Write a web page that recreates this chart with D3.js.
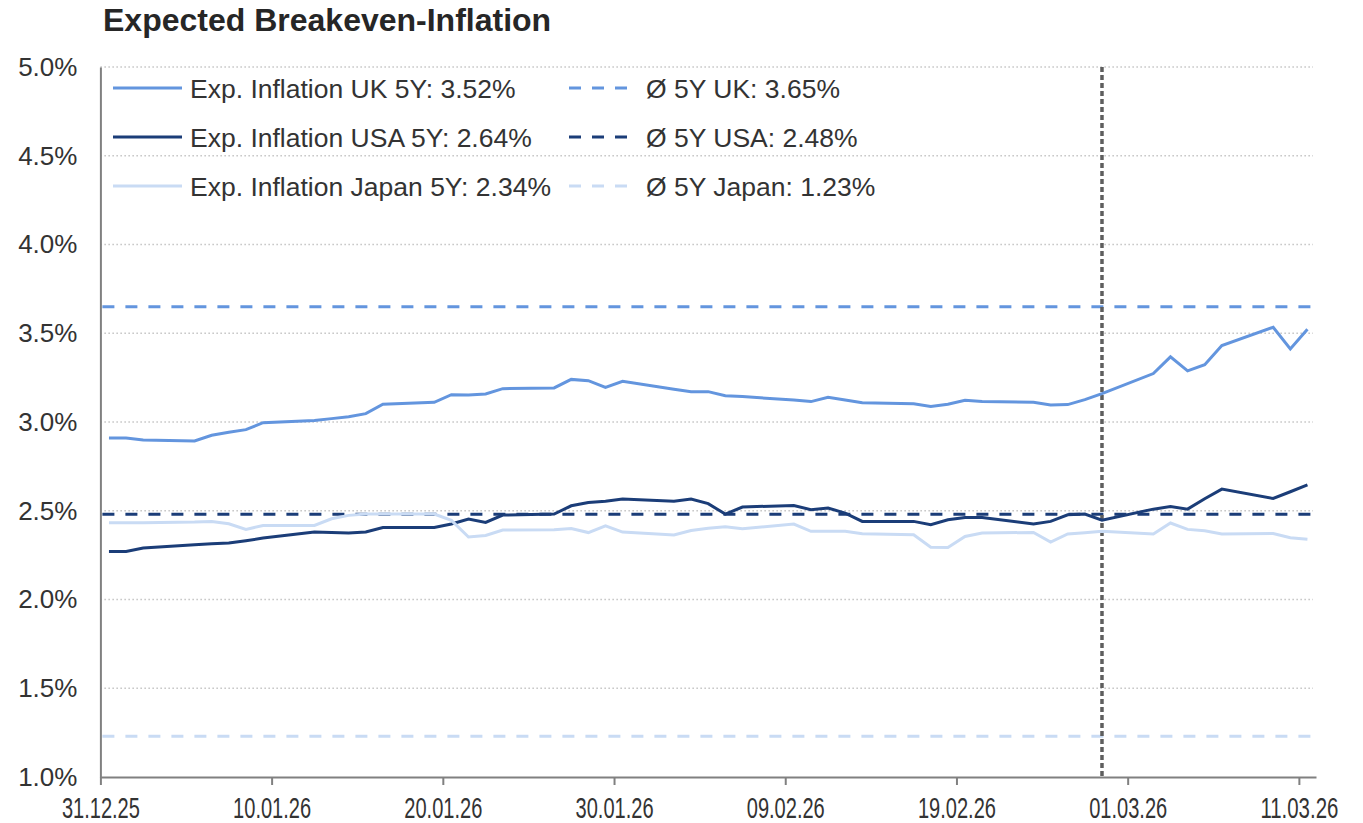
<!DOCTYPE html>
<html>
<head>
<meta charset="utf-8">
<script src="https://cdn.jsdelivr.net/npm/d3@7"></script>
<style>
  body { margin: 0; background: #fff; }
  text { font-family: "Liberation Sans", Arial, sans-serif; fill: #333; }
</style>
</head>
<body>
<div id="chart"></div>
<script>
// business days shown in the chart
const dates = [
  "2025-12-31", "2026-01-01", "2026-01-02", "2026-01-05", "2026-01-06", "2026-01-07", "2026-01-08", "2026-01-09",
  "2026-01-12", "2026-01-13", "2026-01-14", "2026-01-15", "2026-01-16", "2026-01-19", "2026-01-20", "2026-01-21",
  "2026-01-22", "2026-01-23", "2026-01-26", "2026-01-27", "2026-01-28", "2026-01-29", "2026-01-30", "2026-02-02",
  "2026-02-03", "2026-02-04", "2026-02-05", "2026-02-06", "2026-02-09", "2026-02-10", "2026-02-11", "2026-02-12",
  "2026-02-13", "2026-02-16", "2026-02-17", "2026-02-18", "2026-02-19", "2026-02-20", "2026-02-23", "2026-02-24",
  "2026-02-25", "2026-02-26", "2026-02-27", "2026-03-02", "2026-03-03", "2026-03-04", "2026-03-05", "2026-03-06",
  "2026-03-09", "2026-03-10", "2026-03-11"
];

const ukValues = [
  2.910, 2.910, 2.899, 2.893, 2.925, 2.942, 2.957, 2.996,
  3.009, 3.019, 3.030, 3.047, 3.100, 3.111, 3.154, 3.152,
  3.158, 3.188, 3.192, 3.240, 3.233, 3.195, 3.229, 3.184,
  3.171, 3.171, 3.148, 3.143, 3.124, 3.115, 3.139, 3.124,
  3.109, 3.103, 3.088, 3.100, 3.122, 3.115, 3.111, 3.096,
  3.098, 3.126, 3.160, 3.273, 3.367, 3.288, 3.323, 3.431,
  3.534, 3.412, 3.523
];

const usaValues = [
  2.271, 2.271, 2.290, 2.308, 2.314, 2.318, 2.331, 2.346,
  2.380, 2.378, 2.374, 2.380, 2.406, 2.406, 2.425, 2.453,
  2.434, 2.476, 2.481, 2.528, 2.547, 2.554, 2.566, 2.554,
  2.566, 2.540, 2.481, 2.521, 2.530, 2.506, 2.515, 2.487,
  2.440, 2.440, 2.421, 2.449, 2.462, 2.462, 2.425, 2.440,
  2.477, 2.481, 2.447, 2.509, 2.524, 2.509, 2.568, 2.622,
  2.569, 2.607, 2.646
];

const japanValues = [
  2.432, 2.432, 2.432, 2.436, 2.440, 2.427, 2.395, 2.417,
  2.417, 2.455, 2.474, 2.481, 2.481, 2.481, 2.446, 2.352,
  2.361, 2.391, 2.393, 2.400, 2.377, 2.415, 2.380, 2.363,
  2.389, 2.402, 2.410, 2.399, 2.425, 2.384, 2.384, 2.384,
  2.370, 2.365, 2.295, 2.293, 2.355, 2.374, 2.378, 2.324,
  2.369, 2.376, 2.385, 2.369, 2.431, 2.395, 2.387, 2.369,
  2.372, 2.348, 2.340
];

const seriesNames = ["Exp. Inflation UK 5Y: 3.52%", "Exp. Inflation USA 5Y: 2.64%", "Exp. Inflation Japan 5Y: 2.34%"];
const avgNames = ["Ø 5Y UK: 3.65%", "Ø 5Y USA: 2.48%", "Ø 5Y Japan: 1.23%"];
const avgValues = [3.65, 2.48, 1.23];
const colors = ["#6395de", "#1b3d78", "#c9dbf4"];

const tickDates = ["2025-12-31", "2026-01-10", "2026-01-20", "2026-01-30", "2026-02-09", "2026-02-19", "2026-03-01", "2026-03-11"];
const yTicks = [1.0, 1.5, 2.0, 2.5, 3.0, 3.5, 4.0, 4.5, 5.0];
const markerDate = "2026-02-27";

const W = 1363, H = 823;
const plotL = 100.4, plotR = 1316, plotT = 67, plotB = 777;
const parse = d3.utcParse("%Y-%m-%d");
// points sit in the middle of their day
const mid = (s) => d3.utcHour.offset(parse(s), 12);

const svg = d3.select("#chart").append("svg")
  .attr("width", W)
  .attr("height", H);

const x = d3.scaleUtc()
  .domain([parse("2025-12-31"), parse("2026-03-12")])
  .range([plotL, plotR]);
const y = d3.scaleLinear()
  .domain([1, 5])
  .range([plotB, plotT]);

svg.append("text")
  .attr("x", 103)
  .attr("y", 31)
  .attr("font-size", 32)
  .attr("font-weight", "bold")
  .style("fill", "#262626")
  .text("Expected Breakeven-Inflation");

// grid
svg.append("g")
  .selectAll("line")
  .data(yTicks.filter((t) => t > 1))
  .enter()
  .append("line")
  .attr("x1", plotL)
  .attr("x2", 1313)
  .attr("y1", (d) => y(d))
  .attr("y2", (d) => y(d))
  .attr("stroke", "#c4c4c4")
  .attr("stroke-width", 1.3)
  .attr("stroke-dasharray", "1.5,2.5");

// average lines
svg.append("g")
  .selectAll("line")
  .data(avgValues)
  .enter()
  .append("line")
  .attr("x1", plotL + 2)
  .attr("x2", 1312)
  .attr("y1", (d) => y(d))
  .attr("y2", (d) => y(d))
  .attr("stroke", (d, i) => colors[i])
  .attr("stroke-width", 3)
  .attr("stroke-dasharray", "12,11");

// vertical marker
svg.append("line")
  .attr("x1", x(mid(markerDate)))
  .attr("x2", x(mid(markerDate)))
  .attr("y1", plotT)
  .attr("y2", plotB)
  .attr("stroke", "#5e5e5e")
  .attr("stroke-width", 3.5)
  .attr("stroke-dasharray", "5,3");

const line = d3.line()
  .x((d) => x(mid(d.date)))
  .y((d) => y(d.value));

[ukValues, usaValues, japanValues].forEach((vals, i) => {
  svg.append("path")
    .datum(vals.map((v, k) => ({ date: dates[k], value: v })))
    .attr("fill", "none")
    .attr("stroke", colors[i])
    .attr("stroke-width", 3)
    .attr("d", line);
});

// axes
const xAxis = svg.append("g")
  .attr("transform", `translate(0,${plotB})`)
  .call(d3.axisBottom(x)
    .tickValues(tickDates.map(parse))
    .tickFormat(d3.utcFormat("%d.%m.%y"))
    .tickSize(8)
    .tickSizeOuter(0)
    .tickPadding(12));
xAxis.select(".domain").attr("stroke", "#808080").attr("stroke-width", 2);
xAxis.selectAll(".tick line").attr("stroke", "#808080").attr("stroke-width", 2);
xAxis.selectAll(".tick text")
  .attr("font-size", 29)
  .attr("font-family", null)
  .attr("fill", null)
  .attr("textLength", 78)
  .attr("lengthAdjust", "spacingAndGlyphs");

const yAxis = svg.append("g")
  .attr("transform", `translate(${plotL},0)`)
  .call(d3.axisLeft(y)
    .tickValues(yTicks)
    .tickFormat((d) => d.toFixed(1) + "%")
    .tickSize(0)
    .tickPadding(23));
yAxis.select(".domain").attr("stroke", "#808080").attr("stroke-width", 2);
yAxis.selectAll(".tick text")
  .attr("font-size", 26)
  .attr("font-family", null)
  .attr("fill", null);

// legend
const rows = [88, 137, 186];
const legend = svg.append("g");
seriesNames.forEach((name, i) => {
  legend.append("line")
    .attr("x1", 113).attr("x2", 182)
    .attr("y1", rows[i]).attr("y2", rows[i])
    .attr("stroke", colors[i])
    .attr("stroke-width", 3);
  legend.append("text")
    .attr("x", 190)
    .attr("y", rows[i])
    .attr("dy", "0.36em")
    .attr("font-size", 26.5)
    .text(name);
  legend.append("line")
    .attr("x1", 569).attr("x2", 630)
    .attr("y1", rows[i]).attr("y2", rows[i])
    .attr("stroke", colors[i])
    .attr("stroke-width", 3)
    .attr("stroke-dasharray", "12,11");
  legend.append("text")
    .attr("x", 646)
    .attr("y", rows[i])
    .attr("dy", "0.36em")
    .attr("font-size", 26.5)
    .text(avgNames[i]);
});
</script>
</body>
</html>
